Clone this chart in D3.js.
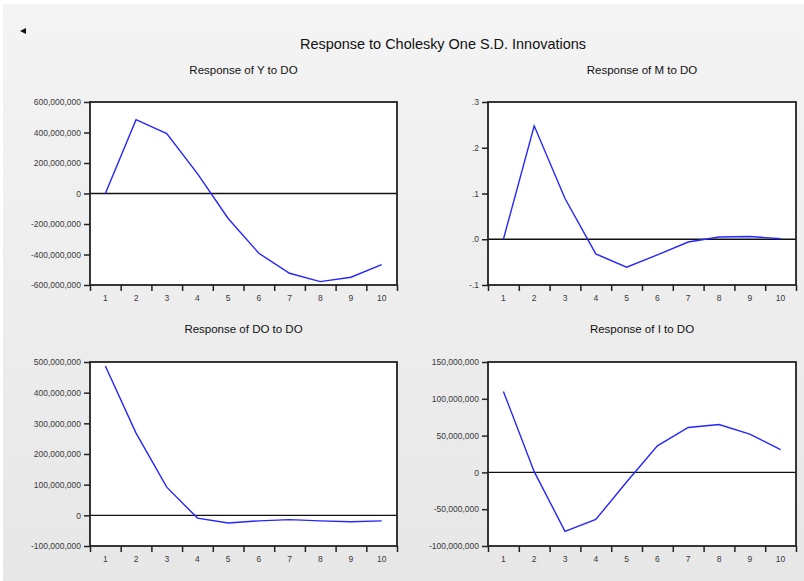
<!DOCTYPE html>
<html>
<head>
<meta charset="utf-8">
<script src="https://cdn.jsdelivr.net/npm/d3@7"></script>
<style>
  body { margin: 0; background: #fff; }
  text { font-family: "Liberation Sans", Arial, sans-serif; }
</style>
</head>
<body>
<div id="chart"></div>
<script>
/* DATA */
const periods = [1, 2, 3, 4, 5, 6, 7, 8, 9, 10];

const respY = [0, 484e6, 393e6, 130e6, -164e6, -392e6, -523e6, -578e6, -549e6, -467e6];
const respM = [0, 0.248, 0.089, -0.032, -0.061, -0.034, -0.006, 0.005, 0.006, 0.001];
const respDO = [487e6, 268e6, 92e6, -9e6, -25e6, -18e6, -14e6, -18e6, -21e6, -18e6];
const respI = [110e6, 1e6, -80e6, -64e6, -13e6, 36e6, 61e6, 65e6, 52e6, 31e6];

const ticksY = [-600e6, -400e6, -200e6, 0, 200e6, 400e6, 600e6];
const ticksM = [-0.1, 0, 0.1, 0.2, 0.3];
const ticksDO = [-100e6, 0, 100e6, 200e6, 300e6, 400e6, 500e6];
const ticksI = [-100e6, -50e6, 0, 50e6, 100e6, 150e6];

const mainTitle = "Response to Cholesky One S.D. Innovations";
const subTitles = ["Response of Y to DO", "Response of M to DO", "Response of DO to DO", "Response of I to DO"];

/* CONSTANTS */
const width = 804,
  height = 581;

const locale = d3.formatLocale({ decimal: ".", thousands: ",", grouping: [3], currency: ["$", ""], minus: "-" });
const fmtBig = locale.format(",");
const fmtSmall = d => (d === 0 ? ".0" : locale.format(".1f")(d).replace("0.", "."));

// panel frames
const panels = [
  { values: respY, ticks: ticksY, fmt: fmtBig, title: subTitles[0], x0: 90, x1: 397, y0: 102, y1: 285, ty: 74 },
  { values: respM, ticks: ticksM, fmt: fmtSmall, title: subTitles[1], x0: 488, x1: 796, y0: 102, y1: 285, ty: 74 },
  { values: respDO, ticks: ticksDO, fmt: fmtBig, title: subTitles[2], x0: 90, x1: 397, y0: 362, y1: 546, ty: 333 },
  { values: respI, ticks: ticksI, fmt: fmtBig, title: subTitles[3], x0: 488, x1: 796, y0: 362, y1: 546, ty: 333 },
];

const svg = d3.select("#chart").append("svg")
  .attr("width", width)
  .attr("height", height);

// background with a faint gradient
const grad = svg.append("defs").append("linearGradient")
  .attr("id", "bg").attr("x1", 0).attr("y1", 0).attr("x2", 0).attr("y2", 1);
grad.append("stop").attr("offset", "0%").attr("stop-color", "#f4f4f4");
grad.append("stop").attr("offset", "100%").attr("stop-color", "#e7e7e7");

svg.append("rect")
  .attr("x", 3).attr("y", 4)
  .attr("width", width - 3).attr("height", height - 4)
  .attr("fill", "url(#bg)");

// little arrow top-left
svg.append("path")
  .attr("d", "M20,31 L26,28 L26,34 Z")
  .attr("fill", "#111");

svg.append("text")
  .attr("x", 443).attr("y", 49)
  .attr("text-anchor", "middle")
  .attr("font-size", 15)
  .attr("fill", "#111")
  .attr("textLength", 286)
  .attr("lengthAdjust", "spacingAndGlyphs")
  .text(mainTitle);

panels.forEach(p => {
  const g = svg.append("g");

  const xBand = d3.scaleBand().domain(periods).range([p.x0, p.x1]);
  const xEdge = d3.scaleLinear().domain([0, periods.length]).range([p.x0, p.x1]);
  const y = d3.scaleLinear().domain(d3.extent(p.ticks)).range([p.y1, p.y0]);

  // subtitle
  g.append("text")
    .attr("x", (p.x0 + p.x1) / 2).attr("y", p.ty)
    .attr("text-anchor", "middle")
    .attr("font-size", 11.5)
    .attr("fill", "#111")
    .text(p.title);

  // plot area
  g.append("rect")
    .attr("x", p.x0).attr("y", p.y0)
    .attr("width", p.x1 - p.x0).attr("height", p.y1 - p.y0)
    .attr("fill", "#fff");

  // zero line
  g.append("line")
    .attr("x1", p.x0).attr("x2", p.x1)
    .attr("y1", y(0)).attr("y2", y(0))
    .attr("stroke", "#111").attr("stroke-width", 1.3);

  // y axis
  const yAx = g.append("g")
    .attr("transform", `translate(${p.x0},0)`)
    .call(d3.axisLeft(y).tickValues(p.ticks).tickFormat(p.fmt).tickSize(6).tickPadding(3));
  yAx.select(".domain").remove();

  // x axis ticks at band edges
  const xAx = g.append("g")
    .attr("transform", `translate(0,${p.y1})`)
    .call(d3.axisBottom(xEdge).tickValues(d3.range(periods.length + 1)).tickFormat("").tickSize(6));
  xAx.select(".domain").remove();

  // x labels at band centres
  const xLab = g.append("g")
    .attr("transform", `translate(0,${p.y1})`)
    .call(d3.axisBottom(xBand).tickSize(0).tickPadding(10));
  xLab.select(".domain").remove();

  [yAx, xAx].forEach(a => a.selectAll("line").attr("stroke", "#222").attr("stroke-width", 1.5));
  [yAx, xLab].forEach(a => a.selectAll("text")
    .attr("font-family", "Liberation Sans, Arial, sans-serif")
    .attr("font-size", 8.5)
    .attr("fill", "#3a3a3a"));

  // response line
  const lineFunc = d3.line()
    .x((d, i) => xBand(periods[i]) + xBand.bandwidth() / 2)
    .y(d => y(d));

  g.append("path")
    .datum(p.values)
    .attr("d", lineFunc)
    .attr("fill", "none")
    .attr("stroke", "#2525ff")
    .attr("stroke-width", 1.4);

  // frame
  g.append("rect")
    .attr("x", p.x0).attr("y", p.y0)
    .attr("width", p.x1 - p.x0).attr("height", p.y1 - p.y0)
    .attr("fill", "none")
    .attr("stroke", "#222")
    .attr("stroke-width", 1.8);
});
</script>
</body>
</html>
